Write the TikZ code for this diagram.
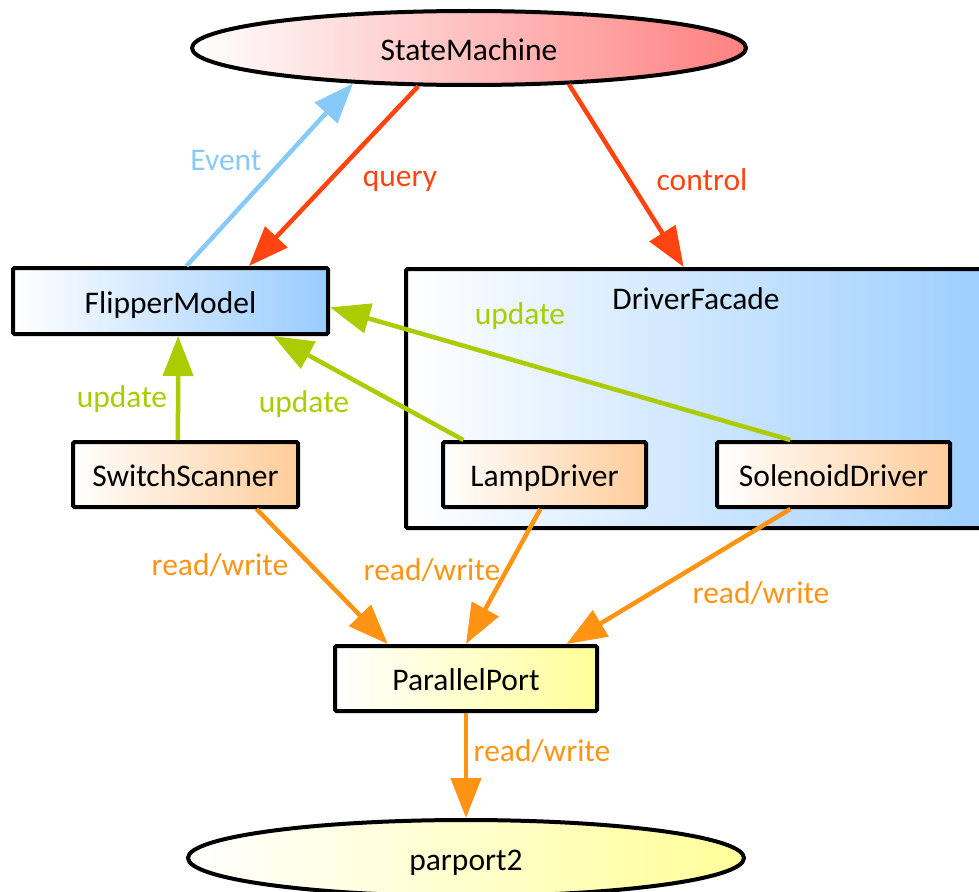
\documentclass[tikz,border=0pt]{standalone}
\usepackage{fontspec}
\setmainfont{Carlito}
\usetikzlibrary{arrows.meta,calc,shapes.geometric}

\definecolor{evblue}{RGB}{135,202,250}
\definecolor{ctlred}{RGB}{255,68,16}
\definecolor{updgreen}{RGB}{170,204,0}
\definecolor{rworange}{RGB}{255,148,20}
\definecolor{boxblue}{RGB}{153,204,255}
\definecolor{boxpeach}{RGB}{255,204,153}
\definecolor{boxyellow}{RGB}{255,255,153}
\definecolor{smred}{RGB}{255,128,128}

\tikzset{
  box/.style={draw=black, line width=4pt, rounded corners=1.5pt, inner sep=0pt,
              text=black, text height=25pt, text depth=1pt},
  flow/.style={line width=4.5pt, -{Triangle[length=40pt,width=30pt]}},
  lbl/.style={inner sep=0pt}
}

\begin{document}
\begin{tikzpicture}[x=1pt, y=-1pt, font=\fontsize{31.5}{36}\selectfont]
\useasboundingbox (0,0) rectangle (979,891);
\clip (0,0) rectangle (979,891);

% components
\node[box, ellipse, left color=white, right color=smred,
      minimum width=554pt, minimum height=74pt] (sm) at (469,48) {StateMachine};
\node[box, left color=white, right color=boxblue,
      minimum width=315pt, minimum height=66pt] (flipper) at (170.5,301) {FlipperModel};
\node[box, left color=white, right color=boxblue,
      minimum width=604pt, minimum height=259pt] (facade) at (708,398.5) {};
\node[lbl] (facadetitle) at (696,299) {DriverFacade};
\node[box, left color=white, right color=boxpeach,
      minimum width=225pt, minimum height=65pt] (switch) at (185.5,474.5) {SwitchScanner};
\node[box, left color=white, right color=boxpeach,
      minimum width=203pt, minimum height=65pt] (lamp) at (544.5,474.5) {LampDriver};
\node[box, left color=white, right color=boxpeach,
      minimum width=233pt, minimum height=65pt] (solenoid) at (833.5,474.5) {SolenoidDriver};
\node[box, left color=white, right color=boxyellow,
      minimum width=262pt, minimum height=65pt] (parallel) at (466,678.5) {ParallelPort};
\node[box, ellipse, left color=white, right color=boxyellow,
      minimum width=556pt, minimum height=76pt] (pp2) at (466,858) {parport2};

% events and control
\draw[flow, evblue] ($(flipper.north west)!0.55!(flipper.north east)$) -- (sm.197);
\draw[flow, ctlred] (sm.217) -- ($(flipper.north west)!0.746!(flipper.north east)$);
\draw[flow, ctlred] (sm.340) -- ($(facade.north west)!0.46!(facade.north east)$);

% model updates
\draw[flow, updgreen] ($(switch.north west)!0.467!(switch.north east)$)
  -- ($(flipper.south west)!0.524!(flipper.south east)$);
\draw[flow, updgreen] ($(lamp.north west)!0.108!(lamp.north east)$)
  -- ($(flipper.south west)!0.822!(flipper.south east)$);
\draw[flow, updgreen] ($(solenoid.north west)!0.318!(solenoid.north east)$)
  -- ($(flipper.north east)!0.59!(flipper.south east)$);

% port access
\draw[flow, rworange] ($(switch.south west)!0.81!(switch.south east)$)
  -- ($(parallel.north west)!0.206!(parallel.north east)$);
\draw[flow, rworange] ($(lamp.south west)!0.48!(lamp.south east)$)
  -- ($(parallel.north west)!0.5!(parallel.north east)$);
\draw[flow, rworange] ($(solenoid.south west)!0.318!(solenoid.south east)$)
  -- ($(parallel.north west)!0.878!(parallel.north east)$);
\draw[flow, rworange] (parallel.south) -- (pp2.north);

% connector labels
\node[lbl, text=evblue] (lblevent) at (226,161) {Event};
\node[lbl, text=ctlred] (lblquery) at (400,181) {query};
\node[lbl, text=ctlred] (lblcontrol) at (702,180) {control};
\node[lbl, text=updgreen] (lblupdA) at (122,399) {update};
\node[lbl, text=updgreen] (lblupdB) at (304,404) {update};
\node[lbl, text=updgreen] (lblupdC) at (520,316) {update};
\node[lbl, text=rworange] (lblrwA) at (220,565) {read/write};
\node[lbl, text=rworange] (lblrwB) at (432,570) {read/write};
\node[lbl, text=rworange] (lblrwC) at (761,593) {read/write};
\node[lbl, text=rworange] (lblrwD) at (542,751) {read/write};
\end{tikzpicture}
\end{document}
